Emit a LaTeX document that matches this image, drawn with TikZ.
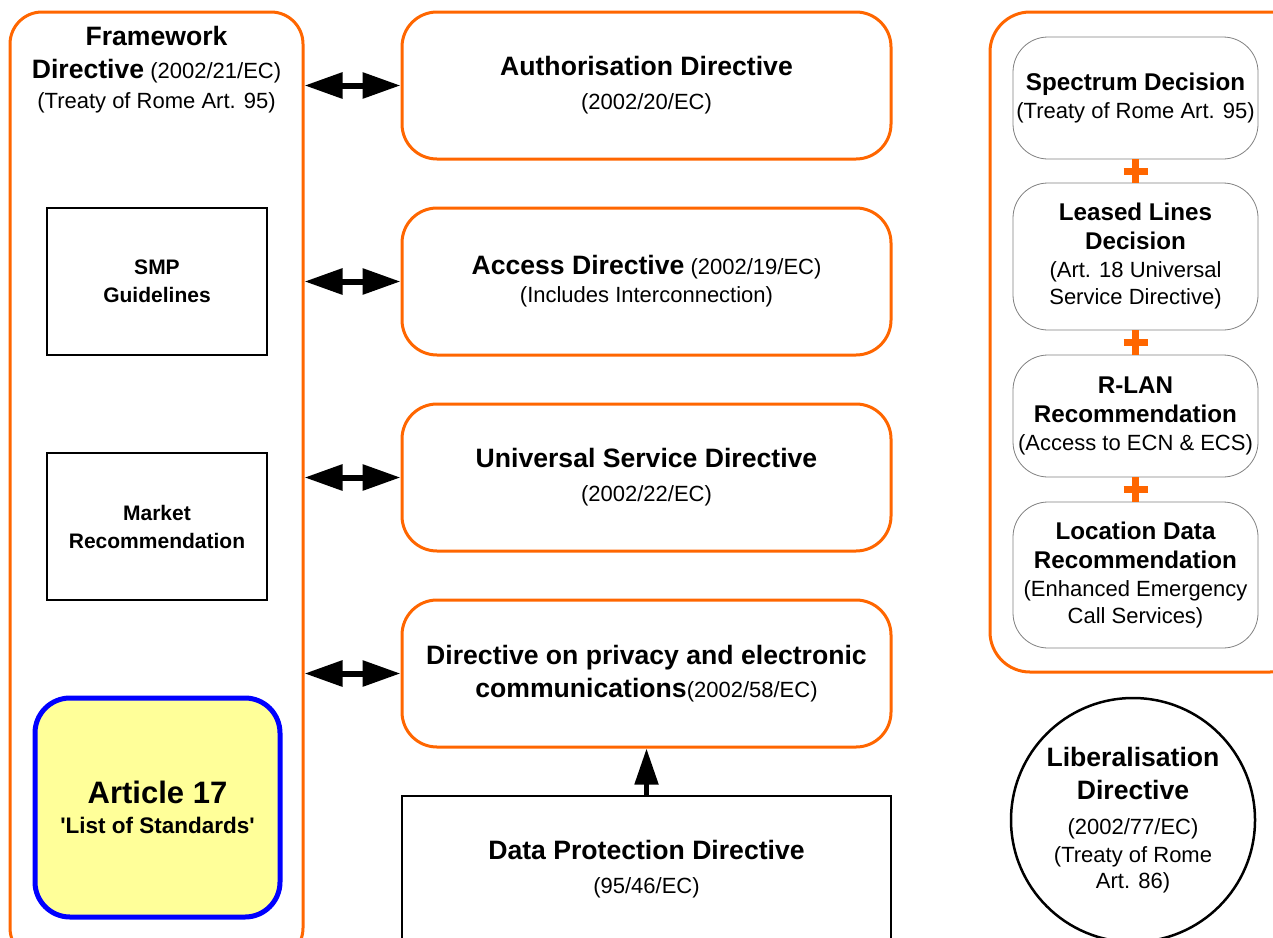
\documentclass[tikz,border=0pt]{standalone}
\usepackage{fontspec}
\setmainfont{Liberation Sans}
\usetikzlibrary{arrows.meta,positioning,calc}

\definecolor{laworange}{RGB}{255,102,0}
\definecolor{listyellow}{RGB}{255,255,153}
\newcommand{\hd}[1]{{\fontsize{26.6}{30}\selectfont\bfseries #1}}
\newcommand{\hs}[1]{{\fontsize{24.2}{28}\selectfont\bfseries #1}}
\newcommand{\hg}[1]{{\fontsize{21}{26}\selectfont\bfseries #1}}

\begin{document}
\begin{tikzpicture}[x=1pt,y=-1pt,node distance=196pt,on grid,
   font=\fontsize{22}{28}\selectfont,
   law/.style={draw=laworange,line width=3pt,rounded corners=35pt,
     minimum width=489pt,minimum height=147pt,align=center},
   guide/.style={draw,line width=2.5pt,minimum width=220pt,
     minimum height=147pt,align=center},
   decision/.style={draw=gray,line width=0.8pt,rounded corners=35pt,
     minimum width=245pt,align=center,inner sep=1pt},
   twoway/.style={line width=6pt,
     {Triangle[width=25pt,length=38pt]}-{Triangle[width=25pt,length=38pt]}},
   uparrow/.style={line width=5pt,-{Triangle[width=23pt,length=36pt]}},
   plusbar/.style={draw=laworange,line width=7pt}]
   \path[use as bounding box,clip] (0,0) rectangle (1273,937);

   % framework column
   \node[draw=laworange,line width=3pt,rounded corners=32pt,
     minimum width=293pt,minimum height=948pt] (fw) at (156.5,486) {};
   \node[align=center] (fwtext) at (156.5,70)
     {\hd{Framework}\\[5pt]\hd{Directive} (2002/21/EC)\\[2pt](Treaty of Rome Art. 95)};
   \node[guide] (smp) at (157,281.5) {\hg{SMP}\\\hg{Guidelines}};
   \node[guide] (market) at (157,526.5) {\hg{Market}\\\hg{Recommendation}};
   \node[draw=blue,fill=listyellow,line width=5pt,rounded corners=35pt,
     minimum width=245pt,minimum height=219pt,align=center] (art) at (157.5,807.5)
     {{\fontsize{31}{36}\selectfont\bfseries Article 17}\\[2pt]
      {\fontsize{22.5}{26}\selectfont\bfseries \textquotesingle List of Standards\textquotesingle}};

   % specific directives
   \node[law] (auth) at (646.5,85.5) {\hd{Authorisation Directive}\\[6pt](2002/20/EC)};
   \node[law] (access) [below=of auth] {\hd{Access Directive} (2002/19/EC)\\(Includes Interconnection)};
   \node[law] (univ) [below=of access] {\hd{Universal Service Directive}\\[6pt](2002/22/EC)};
   \node[law] (priv) [below=of univ] {\hd{Directive on privacy and electronic}\\[5pt]\hd{communications}(2002/58/EC)};
   \node[guide,minimum width=489pt] (dp) [below=of priv] {\hd{Data Protection Directive}\\[6pt](95/46/EC)};

   \foreach \n in {auth,access,univ,priv}
     \draw[twoway] (fw.east |- \n.west) -- (\n.west);
   \draw[uparrow] (dp.north) -- (priv.south);

   % decisions and recommendations
   \node[draw=laworange,line width=3pt,rounded corners=40pt,
     minimum width=320pt,minimum height=660pt] (panel) at (1150,342) {};
   \node[decision,minimum height=122pt] (spec) at (1135.5,98)
     {\hs{Spectrum Decision}\\(Treaty of Rome Art. 95)};
   \node[decision,minimum height=147pt] (lease) at (1135.5,256.5)
     {\hs{Leased Lines}\\[1pt]\hs{Decision}\\(Art. 18 Universal\\[-1pt]Service Directive)};
   \node[decision,minimum height=122pt] (rlan) at (1135.5,416)
     {\hs{R-LAN}\\[1pt]\hs{Recommendation}\\(Access to ECN \& ECS)};
   \node[decision,minimum height=146pt] (loc) at (1135.5,575)
     {\hs{Location Data}\\[1pt]\hs{Recommendation}\\(Enhanced Emergency\\[-1pt]Call Services)};
   \foreach \a/\b in {spec/lease,lease/rlan,rlan/loc} {
     \draw[plusbar] (\a.south) -- (\b.north);
     \draw[plusbar] ($(\a.south)!.5!(\b.north)$) +(-12,0) -- +(12,0);
   }

   \node[draw,circle,line width=2.5pt,minimum size=244pt,align=center,
     inner sep=0pt] (lib) at (1133,820)
     {\hd{Liberalisation}\\[5pt]\hd{Directive}\\[7pt](2002/77/EC)\\(Treaty of Rome\\[-2pt]Art. 86)};
\end{tikzpicture}
\end{document}
